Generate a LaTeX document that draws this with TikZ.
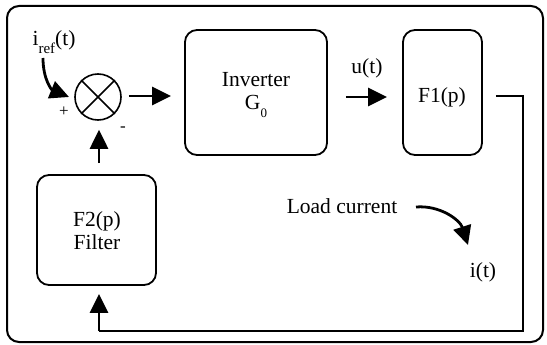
\documentclass[tikz,border=0pt]{standalone}
\usepackage{fontspec}
\setmainfont{Liberation Serif}
\usetikzlibrary{arrows.meta}
\begin{document}
\begin{tikzpicture}[x=1pt,y=-1pt,
  blk/.style={draw, line width=1.8pt, rounded corners=12pt, inner sep=0pt, align=center},
  lbl/.style={inner sep=0pt, align=center, font=\fontsize{21.5}{25}\selectfont},
  arr/.style={line width=2.8pt, -{Triangle[length=19pt,width=18pt]}},
  wire/.style={line width=2.8pt}]
\useasboundingbox (0,0) rectangle (547,345);
\draw[line width=2pt, rounded corners=12pt] (7,6) rectangle (543,342);
\node[blk, minimum width=142pt, minimum height=125pt] (inv) at (256,92.5) {};
\node[lbl] (invt) at (256,95) {Inverter\\[-2pt]G\raisebox{-0.35em}{\fontsize{13}{13}\selectfont 0}};
\node[blk, minimum width=79pt, minimum height=125pt] (f1) at (442.5,92.5) {};
\node[lbl] (f1t) at (442,97) {F1(p)};
\node[blk, minimum width=119pt, minimum height=110pt] (f2) at (96.5,230) {};
\node[lbl] (f2t) at (97,231) {F2(p)\\[-2pt]Filter};
\node[draw, circle, line width=1.6pt, minimum size=46pt, inner sep=0pt] (sum) at (98,97) {};
\draw[line width=1.6pt] (sum.north west) -- (sum.south east) (sum.north east) -- (sum.south west);
\node[lbl] (iref) at (54,42) {i\raisebox{-0.4em}{\fontsize{15}{15}\selectfont ref}(t)};
\node[inner sep=0pt, font=\fontsize{17}{17}\selectfont] (plus) at (64,112) {+};
\node[inner sep=0pt, font=\fontsize{17}{17}\selectfont] (minus) at (123,129) {-};
\node[lbl] (ut) at (367,68) {u(t)};
\node[lbl] (load) at (342,206) {Load current};
\node[lbl] (it) at (483,272) {i(t)};
\coordinate (c1) at (43,58);
\coordinate (c2) at (69,97);
\draw[arr] (c1) .. controls (43,80) and (52,90) .. (c2);
\draw[arr, shorten <=7pt, shorten >=13pt] (sum.east |- 0,96) -- (inv.west |- 0,96);
\draw[arr, shorten <=18pt, shorten >=15pt] (inv.east |- 0,97) -- (f1.west |- 0,97);
\coordinate (w1) at (523,96);
\coordinate (w2) at (523,331);
\coordinate (w3) at (99,331);
\draw[wire, shorten <=13pt] (f1.east |- w1) -- (w1) -- (w2) -- (w3);
\draw[arr, shorten >=8pt] (w3) -- (f2.south -| w3);
\draw[arr, shorten <=11pt, shorten >=9pt] (f2.north -| 99,0) -- (sum.south -| 99,0);
\coordinate (l1) at (416,207);
\coordinate (l2) at (468,245);
\draw[arr] (l1) .. controls (440,205) and (460,220) .. (l2);
\end{tikzpicture}
\end{document}
